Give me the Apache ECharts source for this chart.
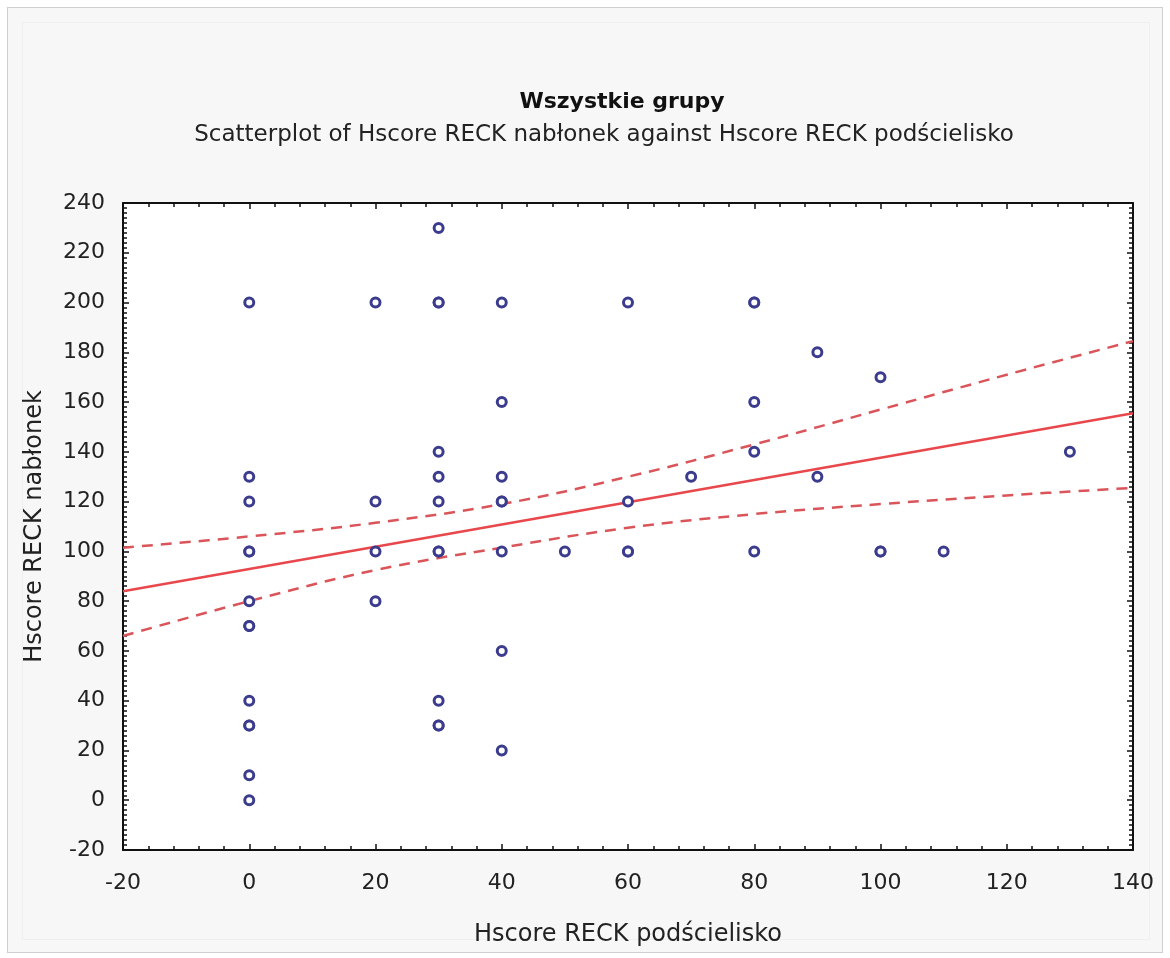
<!DOCTYPE html>
<html>
<head>
<meta charset="utf-8">
<script src="https://cdn.jsdelivr.net/npm/echarts@6/dist/echarts.min.js"></script>
<style>
  html, body { margin: 0; padding: 0; background: #ffffff; }
  #frame { position: absolute; left: 7px; top: 7px; width: 1154px; height: 944px; border: 1px solid #cfcfcf; background: #f7f7f7; }
  #inner { position: absolute; left: 22px; top: 22px; width: 1126px; height: 916px; border: 1px solid #efefef; }
  #chart { position: absolute; left: 0; top: 0; width: 1170px; height: 958px; }
</style>
</head>
<body>
<div id="frame"></div>
<div id="inner"></div>
<div id="chart"></div>
<script>
// Observed points (x = Hscore RECK podścielisko, y = Hscore RECK nabłonek)
const pointsX = [0,0,0,0,0,0,0,0,0,0,0,0,0,
                 20,20,20,20,
                 30,30,30,30,30,30,30,30,30,30,30,
                 40,40,40,40,40,40,40,40,
                 50,
                 60,60,60,60,
                 70,
                 80,80,80,80,80,
                 90,90,
                 100,100,100,
                 110,
                 130];
const pointsY = [200,130,120,100,100,80,70,70,40,30,30,10,0,
                 200,120,100,80,
                 230,200,200,140,130,120,100,100,40,30,30,
                 200,160,130,120,120,100,60,20,
                 100,
                 200,120,100,100,
                 130,
                 200,200,160,140,100,
                 180,130,
                 170,100,100,
                 100,
                 140];
// Regression line (read at the plot edges)
const fitX = [-20, 140];
const fitY = [84, 155.5];
// 95% confidence band
const ciX = [-20, 0, 20, 40, 60, 80, 100, 120, 140];
const ciUpper = [101.5, 106, 111.5, 119, 130, 143, 157, 171, 184.5];
const ciLower = [66, 80, 92.5, 101.5, 109.5, 115, 119, 122.5, 125.5];

const titleText = 'Wszystkie grupy';
const subtitleText = 'Scatterplot of Hscore RECK nabłonek against Hscore RECK podścielisko';
const xName = 'Hscore RECK podścielisko';
const yName = 'Hscore RECK nabłonek';

const FONT = 'DejaVu Sans';
const chart = echarts.init(document.getElementById('chart'), null, { renderer: 'canvas' });

const scatterData = pointsX.map((x, i) => [x, pointsY[i]]);
const fitData = fitX.map((x, i) => [x, fitY[i]]);
const upData = ciX.map((x, i) => [x, ciUpper[i]]);
const loData = ciX.map((x, i) => [x, ciLower[i]]);

const axisLine = { show: true, onZero: false, lineStyle: { color: '#111', width: 2 } };
const tickStyle = { color: '#111', width: 1.5 };

chart.setOption({
  backgroundColor: 'transparent',
  animation: false,
  title: [
    { text: titleText, left: 617, top: 86, textAlign: 'center',
      textStyle: { fontFamily: FONT, fontSize: 22, fontWeight: 'bold', color: '#111' } },
    { text: subtitleText, left: 599, top: 119, textAlign: 'center',
      textStyle: { fontFamily: FONT, fontSize: 23, fontWeight: 'normal', color: '#222' } }
  ],
  grid: { left: 123, right: 37, top: 203, bottom: 108, show: true, backgroundColor: '#ffffff', borderWidth: 0 },
  xAxis: [
    { type: 'value', min: -20, max: 140, interval: 20, position: 'bottom',
      name: xName, nameLocation: 'middle', nameGap: 73,
      nameTextStyle: { fontFamily: FONT, fontSize: 24, color: '#222' },
      axisLine: axisLine,
      axisTick: { show: true, inside: true, length: 6, lineStyle: tickStyle },
      minorTick: { show: true, splitNumber: 5, length: 4, lineStyle: { color: '#111', width: 1.5 } },
      axisLabel: { fontFamily: FONT, fontSize: 22, color: '#222', margin: 22 },
      splitLine: { show: false } },
    { type: 'value', min: -20, max: 140, interval: 20, position: 'top',
      axisLine: axisLine,
      axisTick: { show: true, inside: true, length: 6, lineStyle: tickStyle },
      minorTick: { show: true, splitNumber: 5, length: 4, lineStyle: { color: '#111', width: 1.5 } },
      axisLabel: { show: false }, splitLine: { show: false } }
  ],
  yAxis: [
    { type: 'value', min: -20, max: 240, interval: 20, position: 'left',
      name: yName, nameLocation: 'middle', nameGap: 76,
      nameTextStyle: { fontFamily: FONT, fontSize: 24, color: '#222' },
      axisLine: axisLine,
      axisTick: { show: true, inside: true, length: 6, lineStyle: tickStyle },
      minorTick: { show: true, splitNumber: 10, length: 4, lineStyle: { color: '#111', width: 1.5 } },
      axisLabel: { fontFamily: FONT, fontSize: 22, color: '#222', margin: 18 },
      splitLine: { show: false } },
    { type: 'value', min: -20, max: 240, interval: 20, position: 'right',
      axisLine: axisLine,
      axisTick: { show: true, inside: true, length: 6, lineStyle: tickStyle },
      minorTick: { show: true, splitNumber: 10, length: 4, lineStyle: { color: '#111', width: 1.5 } },
      axisLabel: { show: false }, splitLine: { show: false } }
  ],
  series: [
    { type: 'line', data: upData, smooth: 0.4, symbol: 'none', xAxisIndex: 0, yAxisIndex: 0,
      lineStyle: { color: '#d9555a', width: 2.5, type: [11, 8] }, z: 2 },
    { type: 'line', data: loData, smooth: 0.4, symbol: 'none', xAxisIndex: 0, yAxisIndex: 0,
      lineStyle: { color: '#d9555a', width: 2.5, type: [11, 8] }, z: 2 },
    { type: 'line', data: fitData, symbol: 'none', xAxisIndex: 0, yAxisIndex: 0,
      lineStyle: { color: '#e8474c', width: 2.4 }, z: 3 },
    { type: 'scatter', data: scatterData, xAxisIndex: 0, yAxisIndex: 0,
      symbol: 'circle', symbolSize: 9,
      itemStyle: { color: '#ffffff', borderColor: '#3c3c8e', borderWidth: 3, opacity: 1 }, z: 4 }
  ]
});
</script>
</body>
</html>
